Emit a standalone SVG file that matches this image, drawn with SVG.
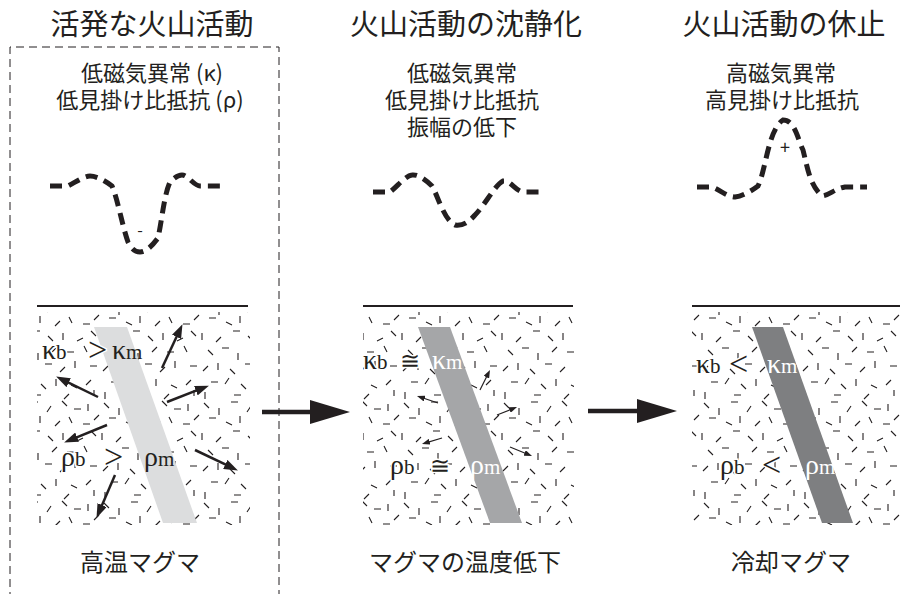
<svg xmlns="http://www.w3.org/2000/svg" width="901" height="594" viewBox="0 0 901 594">
  <style>
    .jp { font-family: "Noto Sans CJK JP", "Noto Sans", sans-serif; fill: #231f20; text-anchor: middle; }
    .title { font-size: 29px; }
    .sub { font-size: 22px; }
    .cap { font-size: 24px; }
    .gr { font-family: "Liberation Serif", "Times New Roman", serif; fill: #231f20; font-size: 28px; }
    .gr .s { font-size: 21px; }
    .rel { font-size: 34px; }
    .approx { font-family: "DejaVu Sans", sans-serif; font-weight: 200; font-size: 24px; }
    .halo { stroke: #ffffff; stroke-width: 3; paint-order: stroke; }
    .w { fill: #ffffff; }
    .anom { fill: none; stroke: #231f20; stroke-width: 5; stroke-dasharray: 12 7; }
    .ground { stroke: #231f20; stroke-width: 2; }
    .flow { stroke: #231f20; stroke-width: 2.5; fill: none; }
    .flow-s { stroke: #231f20; stroke-width: 1.2; fill: none; }
    .step { stroke: #231f20; stroke-width: 4.5; }
  </style>
  <defs>
    <!-- scattered crystal ticks of the host rock -->
    <pattern id="grain" patternUnits="userSpaceOnUse" width="100" height="100">
      <path d="M4 3l5 5M19 8v7M31 2h7M47 12l4-6M62 1l5 5M74 9h7M88 4v7M9 18h7M26 22l6 3M40 16v7M55 26l5-5M69 17l3 6M83 24h7M94 20l5-5M2 33v7M16 42l5-5M33 31h7M48 36l5 5M63 33v7M77 41l6-3M91 31l5 5M8 50l5 5M22 48h7M38 53v7M52 52l5-5M67 52h7M84 46l3 6M3 71l5-5M18 63v7M30 69l5 5M45 64h7M60 72l5-5M75 61v7M90 66h7M11 82h7M25 84l4-6M41 84l5 5M56 79v7M71 85l6 3M86 85l5-5M5 92v7M34 95h7M64 99l5-5M94 90v6" stroke="#231f20" stroke-width="1.1" fill="none"/>
    </pattern>
    <marker id="ah" markerUnits="userSpaceOnUse" markerWidth="14" markerHeight="10" refX="7" refY="5" orient="auto">
      <path d="M0,0 L14,5 L0,10 Z" fill="#231f20"/>
    </marker>
    <marker id="ah-s" markerUnits="userSpaceOnUse" markerWidth="8" markerHeight="6" refX="4" refY="3" orient="auto">
      <path d="M0,0 L8,3 L0,6 Z" fill="#231f20"/>
    </marker>
  </defs>

  <rect width="901" height="594" fill="#ffffff"/>

  <!-- active stage frame -->
  <path d="M10,600 V47 H279 V600" fill="none" stroke="#231f20" stroke-width="1" stroke-dasharray="8 5"/>

  <!-- stage 1: active volcanism -->
  <g id="stage-active">
    <text class="jp title" x="152" y="35">活発な火山活動</text>
    <text class="jp sub" x="152" y="81">低磁気異常 (κ)</text>
    <text class="jp sub" x="150" y="108">低見掛け比抵抗 (ρ)</text>
    <path class="anom" d="M50,186 L68,186 C76,182 84,176 90,176 C96,176 104,180 112,186 C118,200 122,225 128,242 C132,250 136,252 140,252 C146,252 152,246 158,238 C162,220 164,195 170,182 C174,178 178,175 182,175 C188,175 194,186 200,186 L224,186"/>
    <text class="jp" x="140" y="236" font-size="16">-</text>
    <line class="ground" x1="37" y1="306" x2="248" y2="306"/>
    <rect x="37" y="312" width="213" height="213" fill="url(#grain)"/>
    <polygon points="94,327 127,327 197,523 163,523" fill="#dcddde"/>
    <line class="flow" x1="162" y1="368" x2="179.5" y2="330.5" marker-end="url(#ah)"/>
    <line class="flow" x1="98" y1="397" x2="62.4" y2="379.6" marker-end="url(#ah)"/>
    <line class="flow" x1="167" y1="402" x2="202.4" y2="388.2" marker-end="url(#ah)"/>
    <line class="flow" x1="107" y1="425" x2="70.6" y2="439.8" marker-end="url(#ah)"/>
    <line class="flow" x1="195" y1="450" x2="231.6" y2="467.4" marker-end="url(#ah)"/>
    <line class="flow" x1="115" y1="475" x2="99.3" y2="511.5" marker-end="url(#ah)"/>
    <text class="gr halo" x="42" y="359">κ<tspan class="s">b</tspan></text>
    <text class="gr rel halo" x="88" y="361">&gt;</text>
    <text class="gr" x="112" y="359">κ<tspan class="s">m</tspan></text>
    <text class="gr halo" x="61" y="466">ρ<tspan class="s">b</tspan></text>
    <text class="gr rel halo" x="104" y="468">&gt;</text>
    <text class="gr" x="144" y="466">ρ<tspan class="s">m</tspan></text>
    <text class="jp cap" x="140" y="571">高温マグマ</text>
  </g>

  <!-- stage 2: waning activity -->
  <g id="stage-waning">
    <text class="jp title" x="466" y="35">火山活動の沈静化</text>
    <text class="jp sub" x="462" y="81">低磁気異常</text>
    <text class="jp sub" x="462" y="108">低見掛け比抵抗</text>
    <text class="jp sub" x="462" y="135">振幅の低下</text>
    <path class="anom" d="M373,192 L390,192 C398,186 405,176 412,175 C418,174 426,180 432,186 C438,196 444,220 455,225 C462,226 468,223 475,215 C485,205 495,185 503,181 C510,180 514,189 522,192 L545,192"/>
    <line class="ground" x1="363" y1="306" x2="573" y2="306"/>
    <rect x="363" y="312" width="211" height="213" fill="url(#grain)"/>
    <polygon points="418,327 450,327 522,523 490,523" fill="#a5a6a8"/>
    <line class="flow-s" x1="480" y1="390" x2="488.2" y2="373.6" marker-end="url(#ah-s)"/>
    <line class="flow-s" x1="438" y1="403" x2="420.8" y2="397.3" marker-end="url(#ah-s)"/>
    <line class="flow-s" x1="497" y1="415" x2="513.3" y2="408.5" marker-end="url(#ah-s)"/>
    <line class="flow-s" x1="442" y1="438" x2="425.8" y2="442.9" marker-end="url(#ah-s)"/>
    <line class="flow-s" x1="510" y1="447" x2="528.3" y2="454.5" marker-end="url(#ah-s)"/>
    <text class="gr halo" x="363" y="369">κ<tspan class="s">b</tspan></text>
    <text class="gr approx halo" x="400" y="369">≅</text>
    <text class="gr w" x="432" y="369">κ<tspan class="s">m</tspan></text>
    <text class="gr halo" x="390" y="474">ρ<tspan class="s">b</tspan></text>
    <text class="gr approx halo" x="430" y="474">≅</text>
    <text class="gr w" x="470" y="474">ρ<tspan class="s">m</tspan></text>
    <text class="jp cap" x="465" y="571">マグマの温度低下</text>
  </g>

  <!-- stage 3: dormant volcano -->
  <g id="stage-dormant">
    <text class="jp title" x="784" y="35">火山活動の休止</text>
    <text class="jp sub" x="781" y="81">高磁気異常</text>
    <text class="jp sub" x="782" y="108">高見掛け比抵抗</text>
    <path class="anom" d="M697,187 L712,187 C720,190 728,197 735,197 C742,196 750,192 758,186 C766,170 768,130 783,120 C795,120 798,140 803,150 C808,170 810,185 822,196 C830,195 834,189 845,187 L867,187"/>
    <text class="jp" x="785" y="154" font-size="18">+</text>
    <line class="ground" x1="692" y1="306" x2="900" y2="306"/>
    <rect x="692" y="312" width="209" height="213" fill="url(#grain)"/>
    <polygon points="752,327 783,327 853,523 822,523" fill="#7e7f81"/>
    <text class="gr halo" x="696" y="373">κ<tspan class="s">b</tspan></text>
    <text class="gr rel halo" x="729" y="375">&lt;</text>
    <text class="gr w" x="767" y="373">κ<tspan class="s">m</tspan></text>
    <text class="gr halo" x="720" y="474">ρ<tspan class="s">b</tspan></text>
    <text class="gr rel halo" x="762" y="476">&lt;</text>
    <text class="gr w" x="805" y="474">ρ<tspan class="s">m</tspan></text>
    <text class="jp cap" x="791" y="571">冷却マグマ</text>
  </g>

  <!-- transitions between stages -->
  <g id="connectors">
    <line class="step" x1="262" y1="412" x2="312" y2="412"/>
    <polygon points="310,400 350,412 310,424" fill="#231f20"/>
    <line class="step" x1="588" y1="411" x2="640" y2="411"/>
    <polygon points="637,399 677,411 637,423" fill="#231f20"/>
  </g>
</svg>
